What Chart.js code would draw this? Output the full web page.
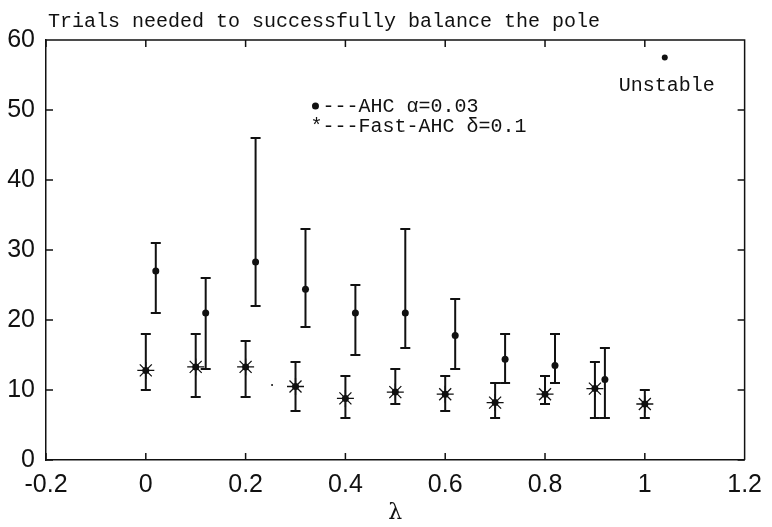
<!DOCTYPE html>
<html>
<head>
<meta charset="utf-8">
<script src="https://cdn.jsdelivr.net/npm/chart.js@4.4.0/dist/chart.umd.min.js"></script>
<style>
    body { margin: 0; background: #fff; }
    canvas { display: block; }
</style>
</head>
<body>
<canvas id="poleChart" width="772" height="527"></canvas>
<script>
// axis ticks
const lambdaTicks = [-0.2, 0, 0.2, 0.4, 0.6, 0.8, 1, 1.2];
const lambdaTickLabels = ['-0.2', '0', '0.2', '0.4', '0.6', '0.8', '1', '1.2'];
const trialTicks = [0, 10, 20, 30, 40, 50, 60];
const trialTickLabels = ['0', '10', '20', '30', '40', '50', '60'];

// AHC alpha=0.03 (dots), shifted by +0.02 on lambda
const ahcLambda = [0.02, 0.12, 0.22, 0.32, 0.42, 0.52, 0.62, 0.72, 0.82, 0.92];
const ahcMean = [27, 21, 28.3, 24.4, 21, 21, 17.8, 14.4, 13.5, 11.5];
const ahcLow = [21, 13, 22, 19, 15, 16, 13, 11, 11, 6];
const ahcHigh = [31, 26, 46, 33, 25, 33, 23, 18, 18, 16];

// Fast-AHC delta=0.1 (stars)
const fastLambda = [0, 0.1, 0.2, 0.3, 0.4, 0.5, 0.6, 0.7, 0.8, 0.9, 1.0];
const fastMean = [12.8, 13.3, 13.3, 10.5, 8.8, 9.7, 9.4, 8.2, 9.4, 10.2, 8.0];
const fastLow = [10, 9, 9, 7, 6, 8, 7, 6, 8, 6, 6];
const fastHigh = [18, 18, 17, 14, 12, 13, 12, 11, 12, 14, 10];

// AHC at lambda=1 did not balance
const unstableLambda = [1.04];
const unstableTrials = [57.5];
// small stray dot in the original figure
const strayLambda = [0.253];
const strayTrials = [10.7];

const ink = '#111';
const monoFont = '20px "Liberation Mono", "Courier New", monospace';

const toPoints = (xs, ys) => xs.map((v, i) => ({ x: v, y: ys[i] }));

const errorBars = {
    id: 'errorBars',
    afterDatasetsDraw(chart) {
        const { ctx, scales: { x, y } } = chart;
        ctx.save();
        ctx.strokeStyle = ink;
        ctx.lineWidth = 2;
        const draw = (xs, lo, hi) => xs.forEach((v, i) => {
            const px = x.getPixelForValue(v);
            const p1 = y.getPixelForValue(lo[i]);
            const p2 = y.getPixelForValue(hi[i]);
            ctx.beginPath();
            ctx.moveTo(px, p1); ctx.lineTo(px, p2);
            ctx.moveTo(px - 5, p1); ctx.lineTo(px + 5, p1);
            ctx.moveTo(px - 5, p2); ctx.lineTo(px + 5, p2);
            ctx.stroke();
        });
        draw(ahcLambda, ahcLow, ahcHigh);
        draw(fastLambda, fastLow, fastHigh);
        ctx.restore();
    }
};

// matlab style box: top/right edges, inward ticks, title and notes
const matlabBox = {
    id: 'matlabBox',
    afterDraw(chart) {
        const { ctx, chartArea: a, scales: { x, y } } = chart;
        ctx.save();
        ctx.strokeStyle = ink;
        ctx.lineWidth = 1.5;
        ctx.beginPath();
        ctx.moveTo(a.left, a.top); ctx.lineTo(a.right, a.top); ctx.lineTo(a.right, a.bottom);
        lambdaTicks.forEach(v => {
            const px = x.getPixelForValue(v);
            ctx.moveTo(px, a.bottom); ctx.lineTo(px, a.bottom - 7);
            ctx.moveTo(px, a.top); ctx.lineTo(px, a.top + 7);
        });
        trialTicks.forEach(v => {
            const py = y.getPixelForValue(v);
            ctx.moveTo(a.left, py); ctx.lineTo(a.left + 7, py);
            ctx.moveTo(a.right, py); ctx.lineTo(a.right - 7, py);
        });
        ctx.stroke();

        ctx.fillStyle = ink;
        ctx.font = monoFont;
        ctx.textBaseline = 'alphabetic';
        ctx.textAlign = 'left';
        ctx.fillText('Trials needed to successfully balance the pole', a.left + 2, 27);

        // legend written inside the axes
        const lx = x.getPixelForValue(0.34);
        const l1 = y.getPixelForValue(49.7);
        const l2 = y.getPixelForValue(46.85);
        ctx.beginPath();
        ctx.arc(lx, l1 - 6, 3.5, 0, Math.PI * 2);
        ctx.fill();
        ctx.fillText('---AHC α=0.03', lx + 7, l1);
        ctx.fillText('*---Fast-AHC δ=0.1', lx - 5, l2);

        ctx.textAlign = 'center';
        ctx.fillText('Unstable', x.getPixelForValue(1.044), y.getPixelForValue(52.7));
        ctx.restore();
    }
};

const ctx = document.getElementById('poleChart').getContext('2d');
const chart = new Chart(ctx, {
    type: 'scatter',
    data: {
        datasets: [{
            label: 'AHC α=0.03',
            data: toPoints(ahcLambda, ahcMean),
            pointStyle: 'circle',
            pointRadius: 3.5,
            backgroundColor: ink,
            borderColor: ink,
            borderWidth: 0
        }, {
            label: 'Fast-AHC δ=0.1',
            data: toPoints(fastLambda, fastMean),
            pointStyle: 'star',
            pointRadius: 8.5,
            borderColor: ink,
            borderWidth: 1.3
        }, {
            label: 'Fast-AHC centre',
            data: toPoints(fastLambda, fastMean),
            pointStyle: 'circle',
            pointRadius: 3.5,
            backgroundColor: ink,
            borderWidth: 0
        }, {
            label: 'Unstable',
            data: toPoints(unstableLambda, unstableTrials),
            pointStyle: 'circle',
            pointRadius: 3,
            backgroundColor: ink,
            borderWidth: 0
        }, {
            label: 'stray',
            data: toPoints(strayLambda, strayTrials),
            pointStyle: 'circle',
            pointRadius: 1,
            backgroundColor: ink,
            borderWidth: 0
        }]
    },
    options: {
        responsive: false,
        animation: false,
        layout: { padding: { top: 40, right: 18, left: 0, bottom: 0 } },
        plugins: {
            legend: { display: false },
            tooltip: { enabled: false }
        },
        scales: {
            x: {
                type: 'linear',
                min: -0.2,
                max: 1.2,
                afterFit: (scale) => { scale.height = 67; },
                afterBuildTicks: (scale) => { scale.ticks = lambdaTicks.map(v => ({ value: v })); },
                grid: { display: false, drawTicks: false },
                border: { display: true, color: ink, width: 1.5 },
                ticks: {
                    padding: 10,
                    color: ink,
                    font: { family: '"Liberation Sans Narrow", "Arial Narrow", sans-serif', size: 25 },
                    callback: (v, i) => lambdaTickLabels[i]
                },
                title: {
                    display: true,
                    text: 'λ',
                    color: ink,
                    font: { family: '"DejaVu Serif", serif', size: 22 },
                    padding: { top: 0, bottom: 1 }
                }
            },
            y: {
                type: 'linear',
                min: 0,
                max: 60,
                afterFit: (scale) => { scale.width = 46; },
                afterBuildTicks: (scale) => { scale.ticks = trialTicks.map(v => ({ value: v })); },
                grid: { display: false, drawTicks: false },
                border: { display: true, color: ink, width: 1.5 },
                ticks: {
                    padding: 11,
                    color: ink,
                    font: { family: '"Liberation Sans Narrow", "Arial Narrow", sans-serif', size: 25 },
                    callback: (v, i) => trialTickLabels[i]
                }
            }
        }
    },
    plugins: [errorBars, matlabBox]
});
</script>
</body>
</html>
